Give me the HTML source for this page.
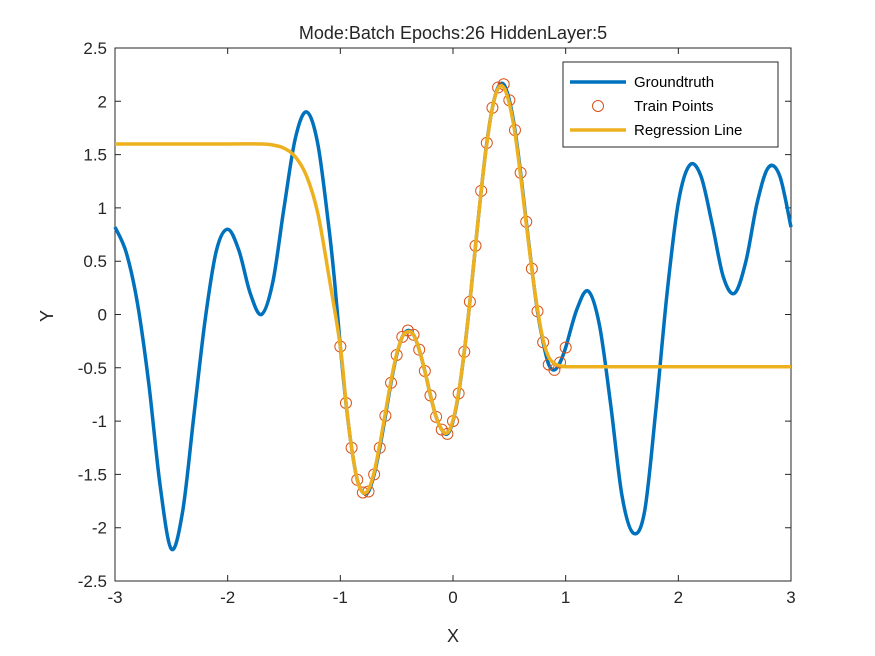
<!DOCTYPE html>
<html><head><meta charset="utf-8"><style>
body{margin:0;background:#fff;}
svg{display:block;font-family:"Liberation Sans",Arial,sans-serif;}
</style></head><body>
<svg id="chart" width="875" height="656" viewBox="0 0 875 656">
<rect x="0" y="0" width="875" height="656" fill="#fff"/>
<text x="453" y="39" font-size="18" text-anchor="middle" fill="#262626">Mode:Batch Epochs:26 HiddenLayer:5</text>
<g id="axes"></g>
<g id="series"></g>
<text x="453" y="642" font-size="18" text-anchor="middle" fill="#262626">X</text>
<text x="53" y="316" font-size="18" text-anchor="middle" fill="#262626" transform="rotate(-90 53 316)">Y</text>
<g>
<rect x="563" y="62" width="215" height="85" fill="#fff" stroke="#262626" stroke-width="1"/>
<line x1="570" y1="82" x2="626" y2="82" stroke="#0072BD" stroke-width="3.5"/>
<text x="634" y="87" font-size="15" fill="#000">Groundtruth</text>
<circle cx="598" cy="106" r="5.5" fill="none" stroke="#D95319" stroke-width="1"/>
<text x="634" y="111" font-size="15" fill="#000">Train Points</text>
<line x1="570" y1="130" x2="626" y2="130" stroke="#EDB120" stroke-width="3.5"/>
<text x="634" y="135" font-size="15" fill="#000">Regression Line</text>
</g>
</svg>
<script>
const xTicks=[-3,-2,-1,0,1,2,3];
const yTicks=[-2.5,-2,-1.5,-1,-0.5,0,0.5,1,1.5,2,2.5];
const gtX=[-3,-2.9,-2.8,-2.7,-2.6,-2.5,-2.4,-2.3,-2.2,-2.1,-2,-1.9,-1.8,-1.7,-1.6,-1.5,-1.4,-1.3,-1.2,-1.1,-1.05,
-1,-0.95,-0.9,-0.85,-0.8,-0.75,-0.7,-0.65,-0.6,-0.55,-0.5,-0.45,-0.4,-0.35,-0.3,-0.25,-0.2,-0.15,-0.1,-0.05,0,0.05,0.1,0.15,0.2,0.25,0.3,0.35,0.4,0.45,0.5,0.55,0.6,0.65,0.7,0.75,0.8,0.85,0.9,0.95,1,
1.1,1.2,1.3,1.4,1.5,1.6,1.7,1.8,1.9,2,2.1,2.2,2.3,2.4,2.5,2.6,2.7,2.8,2.9,3];
const gtY=[0.82,0.58,0.1,-0.65,-1.6,-2.2,-1.85,-0.95,-0.05,0.6,0.8,0.6,0.2,0.0,0.3,1.0,1.65,1.9,1.6,0.8,0.3,
-0.3,-0.83,-1.25,-1.55,-1.67,-1.66,-1.5,-1.25,-0.95,-0.64,-0.38,-0.21,-0.15,-0.19,-0.33,-0.53,-0.76,-0.96,-1.08,-1.12,-1.0,-0.74,-0.35,0.12,0.645,1.16,1.61,1.94,2.13,2.16,2.01,1.73,1.33,0.87,0.43,0.03,-0.26,-0.47,-0.52,-0.45,-0.31,
0.05,0.22,-0.1,-0.85,-1.7,-2.05,-1.85,-0.9,0.2,1.05,1.4,1.3,0.85,0.35,0.2,0.5,1.05,1.38,1.3,0.82];
const trainX=[-1,-0.95,-0.9,-0.85,-0.8,-0.75,-0.7,-0.65,-0.6,-0.55,-0.5,-0.45,-0.4,-0.35,-0.3,-0.25,-0.2,-0.15,-0.1,-0.05,0,0.05,0.1,0.15,0.2,0.25,0.3,0.35,0.4,0.45,0.5,0.55,0.6,0.65,0.7,0.75,0.8,0.85,0.9,0.95,1];
const trainY=[-0.3,-0.83,-1.25,-1.55,-1.67,-1.66,-1.5,-1.25,-0.95,-0.64,-0.38,-0.21,-0.15,-0.19,-0.33,-0.53,-0.76,-0.96,-1.08,-1.12,-1.0,-0.74,-0.35,0.12,0.645,1.16,1.61,1.94,2.13,2.16,2.01,1.73,1.33,0.87,0.43,0.03,-0.26,-0.47,-0.52,-0.45,-0.31];
const regX=[-3,-2.5,-2,-1.7,-1.6,-1.5,-1.4,-1.3,-1.2,-1.1,-1,-0.95,-0.9,-0.85,-0.8,-0.75,-0.7,-0.65,-0.6,-0.55,-0.5,-0.45,-0.4,-0.35,-0.3,-0.25,-0.2,-0.15,-0.1,-0.05,0,0.05,0.1,0.15,0.2,0.25,0.3,0.35,0.4,0.45,0.5,0.55,0.6,0.65,0.7,0.75,0.8,0.85,0.9,0.95,1,1.05,1.1,1.2,1.5,2,2.5,3];
const regY=[1.6,1.6,1.6,1.6,1.59,1.56,1.48,1.3,0.95,0.35,-0.3,-0.82,-1.25,-1.55,-1.67,-1.64,-1.48,-1.22,-0.92,-0.62,-0.37,-0.21,-0.16,-0.19,-0.33,-0.53,-0.76,-0.96,-1.08,-1.11,-0.99,-0.73,-0.35,0.12,0.65,1.16,1.6,1.94,2.12,2.13,1.98,1.7,1.3,0.85,0.42,0.05,-0.24,-0.4,-0.46,-0.48,-0.49,-0.49,-0.49,-0.49,-0.49,-0.49,-0.49,-0.49];

const X0=115,X1=791,Y0=581,Y1=48;
const sx=v=>X0+(v+3)/6*(X1-X0);
const sy=v=>Y0-(v+2.5)/5*(Y0-Y1);
const NS='http://www.w3.org/2000/svg';
function mk(tag,attrs,parent){const e=document.createElementNS(NS,tag);for(const k in attrs)e.setAttribute(k,attrs[k]);parent.appendChild(e);return e;}
const axes=document.getElementById('axes'),series=document.getElementById('series');
const box=mk('rect',{x:X0,y:Y1,width:X1-X0,height:Y0-Y1,fill:'none',stroke:'#262626','stroke-width':1},axes);


xTicks.forEach(t=>{const x=sx(t);
 const l=mk('path',{d:`M${x},${Y0}v-6M${x},${Y1}v6`,stroke:'#262626','stroke-width':1},axes);
 
 
 const tx=mk('text',{x:x,y:Y0+22,'font-size':17,'text-anchor':'middle',fill:'#262626'},axes);tx.textContent=t;
 
 
});
yTicks.forEach(t=>{const y=sy(t);
 const l=mk('path',{d:`M${X0},${y}h6M${X1},${y}h-6`,stroke:'#262626','stroke-width':1},axes);
 
 
 const tx=mk('text',{x:X0-8,y:y+6,'font-size':17,'text-anchor':'end',fill:'#262626'},axes);tx.textContent=t;
 
 
});
function smooth(xs,ys){const p=xs.map((x,i)=>[sx(x),sy(ys[i])]);let d=`M${p[0][0]},${p[0][1]}`;
 for(let i=0;i<p.length-1;i++){const a=p[Math.max(0,i-1)],b=p[i],c=p[i+1],e=p[Math.min(p.length-1,i+2)];
  d+=`C${b[0]+(c[0]-a[0])/6},${b[1]+(c[1]-a[1])/6} ${c[0]-(e[0]-b[0])/6},${c[1]-(e[1]-b[1])/6} ${c[0]},${c[1]}`;}
 return d;}
const gt=mk('path',{d:smooth(gtX,gtY),fill:'none',stroke:'#0072BD','stroke-width':3.5,'stroke-linejoin':'round'},series);


trainX.forEach((x,i)=>{const c=mk('circle',{cx:sx(x),cy:sy(trainY[i]),r:5.5,fill:'none',stroke:'#D95319','stroke-width':1},series);
 
 
});
const rg=mk('path',{d:smooth(regX,regY),fill:'none',stroke:'#EDB120','stroke-width':3.5,'stroke-linejoin':'round'},series);


</script>
</body></html>
